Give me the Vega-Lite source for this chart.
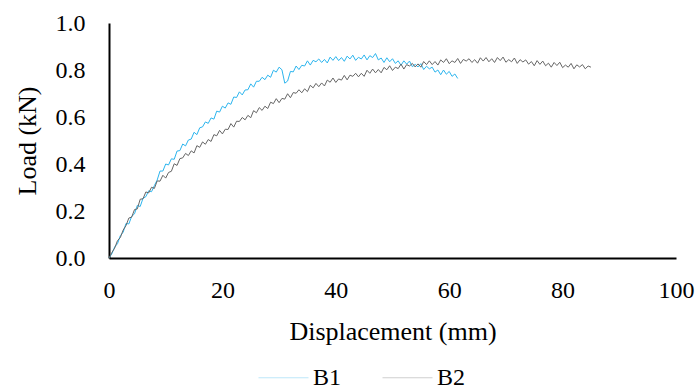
{
  "$schema": "https://vega.github.io/schema/vega-lite/v6.json",
  "width": 567,
  "height": 235,
  "autosize": {"type": "none"},
  "padding": {"left": 109, "top": 23, "right": 21, "bottom": 132},
  "background": "white",
  "config": {
    "font": "Liberation Serif",
    "view": {"stroke": null},
    "axis": {"labelFont": "Liberation Serif", "titleFont": "Liberation Serif", "labelColor": "black", "titleColor": "black", "titleFontWeight": "normal", "labelFontSize": 24, "titleFontSize": 26, "grid": false, "ticks": false, "tickSize": 0, "domainColor": "black", "domainWidth": 2},
    "legend": {"labelFont": "Liberation Serif", "labelFontSize": 24, "labelColor": "black"}
  },
  "data": {"values": [
    {"s":"B1","x":0,"y":0},{"s":"B1","x":0.5,"y":0.018},{"s":"B1","x":1,"y":0.047},{"s":"B1","x":1.5,"y":0.061},{"s":"B1","x":2,"y":0.095},{"s":"B1","x":2.5,"y":0.110},{"s":"B1","x":3,"y":0.147},{"s":"B1","x":3.5,"y":0.145},{"s":"B1","x":4,"y":0.177},{"s":"B1","x":4.5,"y":0.188},
    {"s":"B1","x":5,"y":0.224},{"s":"B1","x":5.5,"y":0.219},{"s":"B1","x":6,"y":0.254},{"s":"B1","x":6.5,"y":0.261},{"s":"B1","x":7,"y":0.286},{"s":"B1","x":7.5,"y":0.282},{"s":"B1","x":8,"y":0.308},{"s":"B1","x":8.5,"y":0.332},{"s":"B1","x":9,"y":0.370},{"s":"B1","x":9.5,"y":0.370},
    {"s":"B1","x":10,"y":0.400},{"s":"B1","x":10.5,"y":0.396},{"s":"B1","x":11,"y":0.422},{"s":"B1","x":11.5,"y":0.420},{"s":"B1","x":12,"y":0.455},{"s":"B1","x":12.5,"y":0.457},{"s":"B1","x":13,"y":0.485},{"s":"B1","x":13.5,"y":0.477},{"s":"B1","x":14,"y":0.502},{"s":"B1","x":14.5,"y":0.506},
    {"s":"B1","x":15,"y":0.535},{"s":"B1","x":15.5,"y":0.525},{"s":"B1","x":16,"y":0.554},{"s":"B1","x":16.5,"y":0.558},{"s":"B1","x":17,"y":0.579},{"s":"B1","x":17.5,"y":0.573},{"s":"B1","x":18,"y":0.596},{"s":"B1","x":18.5,"y":0.591},{"s":"B1","x":19,"y":0.625},{"s":"B1","x":19.5,"y":0.621},
    {"s":"B1","x":20,"y":0.646},{"s":"B1","x":20.5,"y":0.638},{"s":"B1","x":21,"y":0.660},{"s":"B1","x":21.5,"y":0.654},{"s":"B1","x":22,"y":0.685},{"s":"B1","x":22.5,"y":0.683},{"s":"B1","x":23,"y":0.707},{"s":"B1","x":23.5,"y":0.694},{"s":"B1","x":24,"y":0.715},{"s":"B1","x":24.5,"y":0.716},
    {"s":"B1","x":25,"y":0.741},{"s":"B1","x":25.5,"y":0.727},{"s":"B1","x":26,"y":0.752},{"s":"B1","x":26.5,"y":0.752},{"s":"B1","x":27,"y":0.769},{"s":"B1","x":27.5,"y":0.759},{"s":"B1","x":28,"y":0.778},{"s":"B1","x":28.5,"y":0.769},{"s":"B1","x":29,"y":0.799},{"s":"B1","x":29.5,"y":0.791},
    {"s":"B1","x":30,"y":0.812},{"s":"B1","x":30.5,"y":0.801},{"s":"B1","x":31,"y":0.744},{"s":"B1","x":31.5,"y":0.753},{"s":"B1","x":32,"y":0.794},{"s":"B1","x":32.5,"y":0.792},{"s":"B1","x":33,"y":0.817},{"s":"B1","x":33.5,"y":0.802},{"s":"B1","x":34,"y":0.820},{"s":"B1","x":34.5,"y":0.817},
    {"s":"B1","x":35,"y":0.839},{"s":"B1","x":35.5,"y":0.821},{"s":"B1","x":36,"y":0.841},{"s":"B1","x":36.5,"y":0.835},{"s":"B1","x":37,"y":0.847},{"s":"B1","x":37.5,"y":0.832},{"s":"B1","x":38,"y":0.845},{"s":"B1","x":38.5,"y":0.830},{"s":"B1","x":39,"y":0.855},{"s":"B1","x":39.5,"y":0.841},
    {"s":"B1","x":40,"y":0.857},{"s":"B1","x":40.5,"y":0.840},{"s":"B1","x":41,"y":0.853},{"s":"B1","x":41.5,"y":0.837},{"s":"B1","x":42,"y":0.859},{"s":"B1","x":42.5,"y":0.847},{"s":"B1","x":43,"y":0.863},{"s":"B1","x":43.5,"y":0.841},{"s":"B1","x":44,"y":0.854},{"s":"B1","x":44.5,"y":0.847},
    {"s":"B1","x":45,"y":0.864},{"s":"B1","x":45.5,"y":0.843},{"s":"B1","x":46,"y":0.861},{"s":"B1","x":46.5,"y":0.853},{"s":"B1","x":47,"y":0.870},{"s":"B1","x":47.5,"y":0.843},{"s":"B1","x":48,"y":0.851},{"s":"B1","x":48.5,"y":0.832},{"s":"B1","x":49,"y":0.852},{"s":"B1","x":49.5,"y":0.835},
    {"s":"B1","x":50,"y":0.848},{"s":"B1","x":50.5,"y":0.828},{"s":"B1","x":51,"y":0.839},{"s":"B1","x":51.5,"y":0.820},{"s":"B1","x":52,"y":0.839},{"s":"B1","x":52.5,"y":0.825},{"s":"B1","x":53,"y":0.838},{"s":"B1","x":53.5,"y":0.814},{"s":"B1","x":54,"y":0.824},{"s":"B1","x":54.5,"y":0.813},
    {"s":"B1","x":55,"y":0.827},{"s":"B1","x":55.5,"y":0.802},{"s":"B1","x":56,"y":0.816},{"s":"B1","x":56.5,"y":0.805},{"s":"B1","x":57,"y":0.812},{"s":"B1","x":57.5,"y":0.791},{"s":"B1","x":58,"y":0.800},{"s":"B1","x":58.5,"y":0.780},{"s":"B1","x":59,"y":0.800},{"s":"B1","x":59.5,"y":0.782},
    {"s":"B1","x":60,"y":0.794},{"s":"B1","x":60.5,"y":0.773},{"s":"B1","x":61,"y":0.783},{"s":"B1","x":61.5,"y":0.764},
    {"s":"B2","x":0,"y":0},{"s":"B2","x":0.5,"y":0.023},{"s":"B2","x":1,"y":0.042},{"s":"B2","x":1.5,"y":0.074},{"s":"B2","x":2,"y":0.087},{"s":"B2","x":2.5,"y":0.119},{"s":"B2","x":3,"y":0.138},{"s":"B2","x":3.5,"y":0.170},{"s":"B2","x":4,"y":0.174},{"s":"B2","x":4.5,"y":0.206},
    {"s":"B2","x":5,"y":0.209},{"s":"B2","x":5.5,"y":0.250},{"s":"B2","x":6,"y":0.252},{"s":"B2","x":6.5,"y":0.281},{"s":"B2","x":7,"y":0.277},{"s":"B2","x":7.5,"y":0.301},{"s":"B2","x":8,"y":0.296},{"s":"B2","x":8.5,"y":0.328},{"s":"B2","x":9,"y":0.327},{"s":"B2","x":9.5,"y":0.352},
    {"s":"B2","x":10,"y":0.340},{"s":"B2","x":10.5,"y":0.364},{"s":"B2","x":11,"y":0.369},{"s":"B2","x":11.5,"y":0.401},{"s":"B2","x":12,"y":0.394},{"s":"B2","x":12.5,"y":0.423},{"s":"B2","x":13,"y":0.426},{"s":"B2","x":13.5,"y":0.445},{"s":"B2","x":14,"y":0.436},{"s":"B2","x":14.5,"y":0.456},
    {"s":"B2","x":15,"y":0.447},{"s":"B2","x":15.5,"y":0.478},{"s":"B2","x":16,"y":0.471},{"s":"B2","x":16.5,"y":0.494},{"s":"B2","x":17,"y":0.484},{"s":"B2","x":17.5,"y":0.504},{"s":"B2","x":18,"y":0.496},{"s":"B2","x":18.5,"y":0.525},{"s":"B2","x":19,"y":0.520},{"s":"B2","x":19.5,"y":0.543},
    {"s":"B2","x":20,"y":0.528},{"s":"B2","x":20.5,"y":0.548},{"s":"B2","x":21,"y":0.547},{"s":"B2","x":21.5,"y":0.572},{"s":"B2","x":22,"y":0.557},{"s":"B2","x":22.5,"y":0.582},{"s":"B2","x":23,"y":0.581},{"s":"B2","x":23.5,"y":0.598},{"s":"B2","x":24,"y":0.588},{"s":"B2","x":24.5,"y":0.607},
    {"s":"B2","x":25,"y":0.597},{"s":"B2","x":25.5,"y":0.627},{"s":"B2","x":26,"y":0.618},{"s":"B2","x":26.5,"y":0.640},{"s":"B2","x":27,"y":0.628},{"s":"B2","x":27.5,"y":0.646},{"s":"B2","x":28,"y":0.636},{"s":"B2","x":28.5,"y":0.663},{"s":"B2","x":29,"y":0.657},{"s":"B2","x":29.5,"y":0.678},
    {"s":"B2","x":30,"y":0.661},{"s":"B2","x":30.5,"y":0.679},{"s":"B2","x":31,"y":0.676},{"s":"B2","x":31.5,"y":0.699},{"s":"B2","x":32,"y":0.682},{"s":"B2","x":32.5,"y":0.704},{"s":"B2","x":33,"y":0.701},{"s":"B2","x":33.5,"y":0.716},{"s":"B2","x":34,"y":0.703},{"s":"B2","x":34.5,"y":0.720},
    {"s":"B2","x":35,"y":0.708},{"s":"B2","x":35.5,"y":0.735},{"s":"B2","x":36,"y":0.724},{"s":"B2","x":36.5,"y":0.743},{"s":"B2","x":37,"y":0.729},{"s":"B2","x":37.5,"y":0.745},{"s":"B2","x":38,"y":0.732},{"s":"B2","x":38.5,"y":0.757},{"s":"B2","x":39,"y":0.748},{"s":"B2","x":39.5,"y":0.766},
    {"s":"B2","x":40,"y":0.747},{"s":"B2","x":40.5,"y":0.762},{"s":"B2","x":41,"y":0.757},{"s":"B2","x":41.5,"y":0.777},{"s":"B2","x":42,"y":0.758},{"s":"B2","x":42.5,"y":0.778},{"s":"B2","x":43,"y":0.773},{"s":"B2","x":43.5,"y":0.786},{"s":"B2","x":44,"y":0.771},{"s":"B2","x":44.5,"y":0.786},
    {"s":"B2","x":45,"y":0.773},{"s":"B2","x":45.5,"y":0.799},{"s":"B2","x":46,"y":0.786},{"s":"B2","x":46.5,"y":0.804},{"s":"B2","x":47,"y":0.788},{"s":"B2","x":47.5,"y":0.802},{"s":"B2","x":48,"y":0.788},{"s":"B2","x":48.5,"y":0.811},{"s":"B2","x":49,"y":0.801},{"s":"B2","x":49.5,"y":0.818},
    {"s":"B2","x":50,"y":0.798},{"s":"B2","x":50.5,"y":0.812},{"s":"B2","x":51,"y":0.806},{"s":"B2","x":51.5,"y":0.825},{"s":"B2","x":52,"y":0.804},{"s":"B2","x":52.5,"y":0.823},{"s":"B2","x":53,"y":0.817},{"s":"B2","x":53.5,"y":0.828},{"s":"B2","x":54,"y":0.813},{"s":"B2","x":54.5,"y":0.826},
    {"s":"B2","x":55,"y":0.812},{"s":"B2","x":55.5,"y":0.836},{"s":"B2","x":56,"y":0.823},{"s":"B2","x":56.5,"y":0.839},{"s":"B2","x":57,"y":0.823},{"s":"B2","x":57.5,"y":0.836},{"s":"B2","x":58,"y":0.821},{"s":"B2","x":58.5,"y":0.843},{"s":"B2","x":59,"y":0.832},{"s":"B2","x":59.5,"y":0.848},
    {"s":"B2","x":60,"y":0.827},{"s":"B2","x":60.5,"y":0.839},{"s":"B2","x":61,"y":0.832},{"s":"B2","x":61.5,"y":0.849},{"s":"B2","x":62,"y":0.828},{"s":"B2","x":62.5,"y":0.845},{"s":"B2","x":63,"y":0.838},{"s":"B2","x":63.5,"y":0.848},{"s":"B2","x":64,"y":0.832},{"s":"B2","x":64.5,"y":0.844},
    {"s":"B2","x":65,"y":0.829},{"s":"B2","x":65.5,"y":0.852},{"s":"B2","x":66,"y":0.838},{"s":"B2","x":66.5,"y":0.853},{"s":"B2","x":67,"y":0.835},{"s":"B2","x":67.5,"y":0.848},{"s":"B2","x":68,"y":0.832},{"s":"B2","x":68.5,"y":0.853},{"s":"B2","x":69,"y":0.840},{"s":"B2","x":69.5,"y":0.855},
    {"s":"B2","x":70,"y":0.833},{"s":"B2","x":70.5,"y":0.844},{"s":"B2","x":71,"y":0.835},{"s":"B2","x":71.5,"y":0.851},{"s":"B2","x":72,"y":0.828},{"s":"B2","x":72.5,"y":0.844},{"s":"B2","x":73,"y":0.834},{"s":"B2","x":73.5,"y":0.843},{"s":"B2","x":74,"y":0.825},{"s":"B2","x":74.5,"y":0.836},
    {"s":"B2","x":75,"y":0.818},{"s":"B2","x":75.5,"y":0.840},{"s":"B2","x":76,"y":0.824},{"s":"B2","x":76.5,"y":0.838},{"s":"B2","x":77,"y":0.818},{"s":"B2","x":77.5,"y":0.829},{"s":"B2","x":78,"y":0.812},{"s":"B2","x":78.5,"y":0.832},{"s":"B2","x":79,"y":0.819},{"s":"B2","x":79.5,"y":0.833},
    {"s":"B2","x":80,"y":0.810},{"s":"B2","x":80.5,"y":0.821},{"s":"B2","x":81,"y":0.812},{"s":"B2","x":81.5,"y":0.828},{"s":"B2","x":82,"y":0.805},{"s":"B2","x":82.5,"y":0.822},{"s":"B2","x":83,"y":0.813},{"s":"B2","x":83.5,"y":0.823},{"s":"B2","x":84,"y":0.805},{"s":"B2","x":84.5,"y":0.817},
    {"s":"B2","x":85,"y":0.812}
  ]},
  "mark": {"type": "line", "strokeWidth": 1, "interpolate": "linear"},
  "encoding": {
    "x": {"field": "x", "type": "quantitative", "title": "Displacement (mm)",
      "scale": {"domain": [0, 100], "nice": false, "zero": true},
      "axis": {"values": [0, 20, 40, 60, 80, 100], "labelPadding": 20, "titlePadding": 16, "labelFlush": false}},
    "y": {"field": "y", "type": "quantitative", "title": "Load (kN)",
      "scale": {"domain": [0, 1], "nice": false},
      "axis": {"values": [0, 0.2, 0.4, 0.6, 0.8, 1.0], "format": ".1f", "labelPadding": 24, "titlePadding": 15, "labelFlush": false}},
    "color": {"field": "s", "type": "nominal",
      "scale": {"domain": ["B1", "B2"], "range": ["#2cb5ee", "#666666"]},
      "legend": {"title": null, "orient": "none", "direction": "horizontal", "legendX": 149, "legendY": 329, "symbolType": "stroke", "symbolSize": 2500, "symbolStrokeWidth": 1, "symbolOpacity": 0.3, "labelOffset": 4, "columnPadding": 38, "padding": 0}},
    "order": {"field": "x", "type": "quantitative"}
  }
}
